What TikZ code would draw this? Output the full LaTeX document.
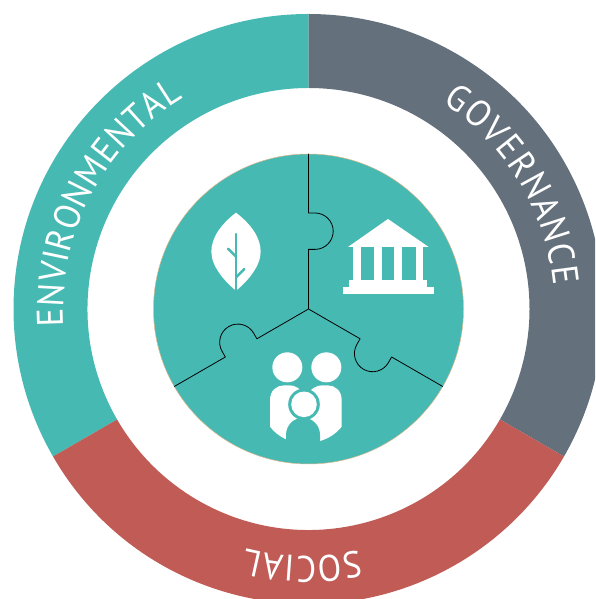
\documentclass[tikz,border=0pt]{standalone}
\usepackage{fontspec}
\setmainfont{PT Sans}[FakeStretch=0.93]
\usetikzlibrary{decorations.text}
\definecolor{teal}{RGB}{71,185,179}
\definecolor{slate}{RGB}{100,112,124}
\definecolor{brick}{RGB}{192,91,86}
\definecolor{tan}{RGB}{222,184,140}
\tikzset{
  ringlabel/.style={decorate,decoration={text along path,text align=fit to path,
     text={|\fontsize{37}{37}\selectfont\color{white}|#1}}},
  seam/.style={draw=black,line width=0.8pt,line join=round}
}
\newcommand{\ringseg}[2]{(#1:295pt) arc[start angle=#1,end angle=#2,radius=295pt] -- (#2:221pt) arc[start angle=#2,end angle=#1,radius=221pt] -- cycle}
\begin{document}
\begin{tikzpicture}[x=1pt,y=1pt]
\clip (0pt,0pt) rectangle (595pt,599pt);
\begin{scope}[shift={(308.5pt,290pt)}]
  \fill[teal] \ringseg{90}{210};
  \fill[slate] \ringseg{-30}{90};
  \fill[brick] \ringseg{210}{330};
  \path[ringlabel=ENVIRONMENTAL] (184:245pt) arc[start angle=184,end angle=120.7,radius=245pt];
  \path[ringlabel=GOVERNANCE] (57:246pt) arc[start angle=57,end angle=5.5,radius=246pt];
  \path[ringlabel=SOCIAL] (-78:247pt) arc[start angle=-78,end angle=-104.6,radius=247pt];
  \filldraw[fill=teal,draw=tan,line width=0.5pt] (0pt,0pt) circle[radius=155pt];
  \foreach \a in {0,-120,-240}{
    \draw[seam,rotate=\a] (0pt,155pt) -- (0pt,96pt) -- (6.5pt,96pt)
      arc[start angle=90,end angle=-90,radius=18.2pt] -- (0pt,59.6pt) -- (0pt,0pt);
  }
\end{scope}
% icons: coordinates in 3x crop units
\begin{scope}[shift={(150pt,449pt)},x=0.33333pt,y=-0.33333pt]
  % leaf
  \fill[white] (258,188) .. controls (210,225) and (184,265) .. (184,305)
     .. controls (184,350) and (225,395) .. (258,422)
     .. controls (291,395) and (332,350) .. (332,305)
     .. controls (332,265) and (306,225) .. (258,188) -- cycle;
  \draw[teal,line width=2.4pt,line cap=round] (258,252) -- (258,424);
  \draw[teal,line width=2.4pt,line cap=round] (258,320) -- (234,296);
  \draw[teal,line width=2.4pt,line cap=round] (258,382) -- (283,357);
  % building
  \fill[white] (714,207) -- (836,291) -- (594,291) -- cycle;
  \fill[white] (610,291) rectangle (820,390);
  \fill[white] (598,390) rectangle (832,411);
  \fill[white] (578,411) rectangle (853,433);
  \fill[teal] (632,292) rectangle (672,390);
  \fill[teal] (695,292) rectangle (733,390);
  \fill[teal] (756,292) rectangle (798,390);
  % family
  \fill[white] (412,652) circle[radius=15pt];
  \fill[white] (529,652) circle[radius=15pt];
  \fill[white] (360,830) -- (360,750) .. controls (360,722) and (380,706) .. (402,706)
     -- (418,706) .. controls (435,706) and (447,714) .. (467,735)
     .. controls (487,714) and (500,706) .. (517,706) -- (533,706)
     .. controls (555,706) and (575,722) .. (575,750) -- (575,830)
     .. controls (560,850) and (535,866) .. (510,873) -- (408,868)
     .. controls (390,860) and (372,846) .. (360,830) -- cycle;
  \fill[teal] (408,880) -- (408,855) .. controls (408,825) and (432,803) .. (459,803)
     .. controls (486,803) and (510,825) .. (510,855) -- (510,880) -- cycle;
  \fill[teal] (462,763) circle[radius=15.8pt];
  \fill[white] (462,763) circle[radius=12.8pt];
\end{scope}
\end{tikzpicture}
\end{document}
